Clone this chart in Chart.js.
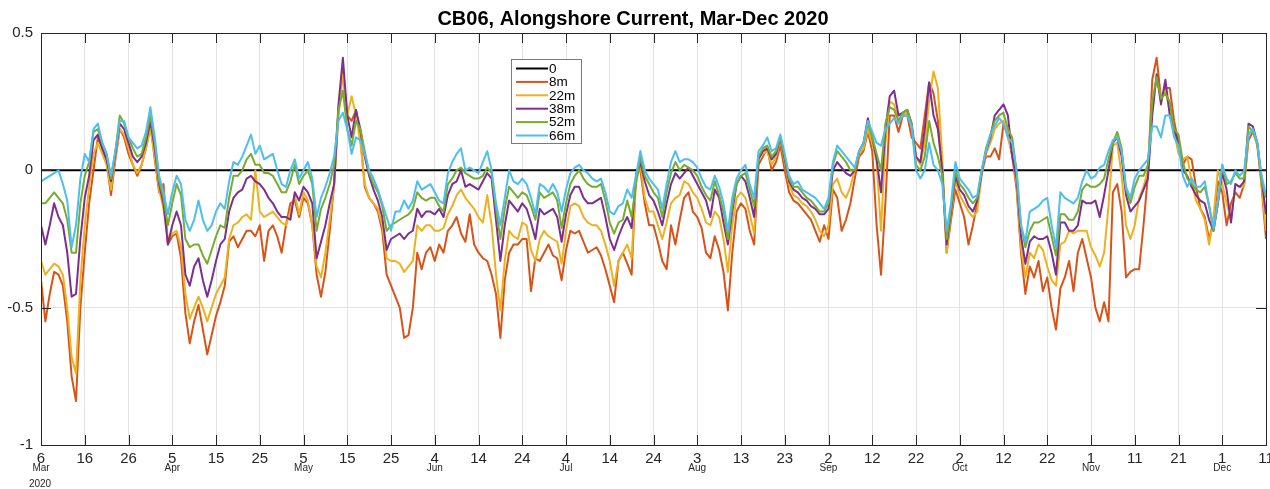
<!DOCTYPE html>
<html>
<head>
<meta charset="utf-8">
<title>CB06 Alongshore Current</title>
<script src="https://cdn.jsdelivr.net/npm/chart.js@4.4.1/dist/chart.umd.min.js"></script>
<style>
  html, body { margin: 0; padding: 0; background: #ffffff; }
  #wrap { width: 1270px; height: 489px; }
</style>
</head>
<body>
<div id="wrap"><canvas id="cv" width="1270" height="489"></canvas></div>
<script>
// Daily samples, counted in days since 6 Mar 2020 (0 .. 280 = 11 Dec 2020)
const dayIndex = Array.from({ length: 281 }, (_, i) => i);

// Tick labels: day of month every 10 days, month name under the first tick of each month
const xTickLabels = ['6','16','26','5','15','25','5','15','25','4','14','24','4','14','24',
                     '3','13','23','2','12','22','2','12','22','1','11','21','1','11'];
const xTickMonths = ['Mar','','','Apr','','','May','','','Jun','','','Jul','','','Aug','','',
                     'Sep','','','Oct','','','Nov','','','Dec',''];
const yearLabel = '2020';
const yTickValues = [-1, -0.5, 0, 0.5];

const seriesNames = ['0', '8m', '22m', '38m', '52m', '66m'];
const zeroLevel = 0;

// Alongshore velocity (m/s) at each depth
const v8m = [
  -0.40,-0.55,-0.45,-0.37,-0.38,-0.42,-0.55,-0.75,-0.84,-0.50,
  -0.30,-0.12, 0.00, 0.12, 0.08, 0.03,-0.09, 0.04, 0.15, 0.12,
   0.06, 0.02,-0.02, 0.02, 0.08, 0.17, 0.04,-0.08,-0.05,-0.27,
  -0.24,-0.23,-0.32,-0.52,-0.63,-0.55,-0.49,-0.58,-0.67,-0.60,
  -0.53,-0.48,-0.42,-0.26,-0.24,-0.28,-0.25,-0.22,-0.22,-0.24,
  -0.20,-0.33,-0.22,-0.20,-0.24,-0.30,-0.20,-0.12,-0.11,-0.17,
  -0.10,-0.12,-0.20,-0.38,-0.46,-0.37,-0.22,-0.05, 0.22, 0.36,
   0.20, 0.18, 0.22, 0.12,-0.06,-0.10,-0.12,-0.15,-0.22,-0.38,
  -0.42,-0.46,-0.50,-0.61,-0.60,-0.50,-0.30,-0.36,-0.30,-0.28,
  -0.33,-0.27,-0.30,-0.22,-0.20,-0.17,-0.23,-0.26,-0.16,-0.27,
  -0.30,-0.32,-0.33,-0.38,-0.45,-0.61,-0.40,-0.30,-0.27,-0.27,
  -0.25,-0.25,-0.44,-0.32,-0.33,-0.30,-0.27,-0.31,-0.32,-0.40,
  -0.29,-0.22,-0.23,-0.22,-0.26,-0.30,-0.29,-0.28,-0.31,-0.36,
  -0.42,-0.48,-0.33,-0.30,-0.34,-0.38,-0.01, 0.00,-0.12,-0.20,
  -0.20,-0.26,-0.33,-0.36,-0.20,-0.27,-0.18,-0.10,-0.08,-0.15,
  -0.17,-0.21,-0.30,-0.32,-0.24,-0.29,-0.37,-0.51,-0.30,-0.15,
  -0.12,-0.14,-0.22,-0.27, 0.02, 0.05, 0.08, 0.00, 0.03, 0.09,
   0.00,-0.08,-0.11,-0.12,-0.14,-0.16,-0.18,-0.22,-0.26,-0.20,
  -0.25,-0.07,-0.10,-0.22,-0.18,-0.12,-0.03, 0.05, 0.07, 0.14,
   0.07,-0.20,-0.38,-0.12, 0.20, 0.20, 0.14, 0.20, 0.20, 0.12,
   0.10, 0.08, 0.20, 0.32, 0.28, 0.18, 0.00,-0.30,-0.18,-0.07,
  -0.12,-0.17,-0.27,-0.20,-0.12,-0.01, 0.05, 0.05, 0.08, 0.04,
   0.17, 0.13, 0.05,-0.07,-0.30,-0.45,-0.35,-0.39,-0.33,-0.44,
  -0.39,-0.50,-0.58,-0.43,-0.39,-0.33,-0.44,-0.30,-0.25,-0.32,
  -0.39,-0.50,-0.55,-0.48,-0.55,-0.08,-0.05,-0.15,-0.39,-0.37,
  -0.36,-0.36,-0.20,-0.02, 0.33, 0.41, 0.26, 0.30, 0.30, 0.18,
   0.10, 0.02, 0.05, 0.04,-0.06,-0.14,-0.17,-0.25,-0.19,-0.04,
  -0.08,-0.20,-0.12,-0.08,-0.10,-0.05, 0.11, 0.14, 0.10,-0.06,
  -0.25
];

const v22m = [
  -0.33,-0.38,-0.36,-0.34,-0.35,-0.38,-0.50,-0.68,-0.74,-0.40,
  -0.20,-0.06, 0.06, 0.10, 0.06, 0.02,-0.07, 0.05, 0.15, 0.13,
   0.08, 0.02,-0.01, 0.02, 0.08, 0.15, 0.05,-0.07,-0.14,-0.25,
  -0.23,-0.22,-0.28,-0.45,-0.54,-0.50,-0.46,-0.50,-0.55,-0.50,
  -0.45,-0.42,-0.39,-0.25,-0.20,-0.19,-0.17,-0.16,-0.18, 0.00,
  -0.15,-0.17,-0.16,-0.15,-0.17,-0.19,-0.20,-0.15,-0.09,-0.16,
  -0.08,-0.11,-0.20,-0.35,-0.39,-0.30,-0.18,-0.05, 0.20, 0.35,
   0.20, 0.27, 0.20, 0.10,-0.05,-0.10,-0.12,-0.14,-0.20,-0.32,
  -0.33,-0.33,-0.34,-0.37,-0.35,-0.33,-0.20,-0.22,-0.20,-0.20,
  -0.22,-0.22,-0.21,-0.16,-0.13,-0.09,-0.07,-0.10,-0.12,-0.14,
  -0.17,-0.19,-0.09,-0.20,-0.38,-0.51,-0.33,-0.22,-0.24,-0.25,
  -0.19,-0.20,-0.29,-0.33,-0.25,-0.22,-0.24,-0.25,-0.26,-0.34,
  -0.22,-0.13,-0.12,-0.13,-0.17,-0.19,-0.20,-0.20,-0.22,-0.27,
  -0.33,-0.42,-0.33,-0.30,-0.27,-0.32,-0.04, 0.02,-0.10,-0.15,
  -0.15,-0.20,-0.25,-0.19,-0.12,-0.10,-0.09,-0.04,-0.05,-0.08,
  -0.10,-0.14,-0.19,-0.20,-0.15,-0.17,-0.25,-0.37,-0.20,-0.10,
  -0.08,-0.10,-0.16,-0.23, 0.05, 0.06, 0.07, 0.02, 0.05, 0.11,
   0.03,-0.05,-0.09,-0.10,-0.12,-0.13,-0.15,-0.18,-0.22,-0.24,
  -0.20,-0.05,-0.03,-0.08,-0.10,-0.06, 0.00, 0.06, 0.08, 0.15,
   0.10, 0.03,-0.22, 0.10, 0.25, 0.24, 0.18, 0.20, 0.21, 0.16,
   0.05, 0.02, 0.10, 0.25, 0.36, 0.30, 0.05,-0.30,-0.16,-0.04,
  -0.09,-0.12,-0.15,-0.17,-0.15,-0.02, 0.06, 0.10, 0.15, 0.17,
   0.18, 0.12, 0.06,-0.05,-0.28,-0.39,-0.30,-0.32,-0.27,-0.29,
  -0.35,-0.40,-0.42,-0.27,-0.26,-0.22,-0.23,-0.22,-0.22,-0.22,
  -0.28,-0.31,-0.35,-0.30,-0.13, 0.09, 0.10,-0.02,-0.20,-0.25,
  -0.20,-0.10,-0.06, 0.00, 0.25, 0.33, 0.27, 0.29, 0.22, 0.14,
   0.06, 0.04, 0.05,-0.04,-0.11,-0.14,-0.18,-0.27,-0.17, 0.00,
  -0.05,-0.12,-0.18,-0.05,-0.06,-0.06, 0.14, 0.14, 0.09,-0.05,
  -0.22
];

const v38m = [
  -0.20,-0.27,-0.20,-0.12,-0.17,-0.20,-0.30,-0.46,-0.45,-0.25,
  -0.10,-0.02, 0.11, 0.13, 0.08, 0.04,-0.04, 0.06, 0.17, 0.15,
   0.10, 0.05, 0.03, 0.05, 0.10, 0.18, 0.08,-0.05,-0.12,-0.27,
  -0.20,-0.15,-0.20,-0.38,-0.42,-0.35,-0.32,-0.40,-0.46,-0.40,
  -0.33,-0.27,-0.25,-0.15,-0.10,-0.08,-0.07,-0.03,-0.02,-0.04,
  -0.05,-0.07,-0.10,-0.12,-0.15,-0.17,-0.17,-0.18,-0.08,-0.11,
  -0.06,-0.08,-0.12,-0.32,-0.26,-0.20,-0.12,-0.05, 0.24, 0.41,
   0.20, 0.12, 0.22, 0.15, 0.05,-0.02,-0.07,-0.11,-0.17,-0.29,
  -0.25,-0.24,-0.23,-0.25,-0.23,-0.22,-0.14,-0.17,-0.15,-0.15,
  -0.16,-0.14,-0.17,-0.09,-0.05,-0.04, 0.00,-0.06,-0.05,-0.06,
  -0.07,-0.04,-0.01,-0.03,-0.18,-0.33,-0.20,-0.11,-0.13,-0.15,
  -0.12,-0.14,-0.19,-0.25,-0.14,-0.16,-0.15,-0.14,-0.17,-0.26,
  -0.16,-0.09,-0.06,-0.06,-0.10,-0.12,-0.12,-0.11,-0.10,-0.17,
  -0.25,-0.29,-0.24,-0.20,-0.17,-0.21,-0.03, 0.03,-0.04,-0.09,
  -0.11,-0.15,-0.20,-0.12,-0.05,-0.01,-0.03,-0.01, 0.01,-0.02,
  -0.05,-0.08,-0.11,-0.17,-0.07,-0.10,-0.19,-0.27,-0.15,-0.05,
  -0.02,-0.04,-0.10,-0.17, 0.04, 0.07, 0.08, 0.04, 0.06, 0.12,
   0.04,-0.04,-0.07,-0.08,-0.10,-0.11,-0.13,-0.14,-0.16,-0.16,
  -0.14, 0.00, 0.03, 0.01,-0.01,-0.02, 0.00, 0.07, 0.10, 0.19,
   0.12, 0.04,-0.08, 0.15, 0.27, 0.29, 0.20, 0.21, 0.22, 0.17,
   0.05, 0.03, 0.15, 0.32, 0.20, 0.15, 0.00,-0.27,-0.15,-0.02,
  -0.07,-0.09,-0.13,-0.15,-0.11,-0.01, 0.07, 0.12, 0.20, 0.22,
   0.24, 0.20, 0.05,-0.03,-0.24,-0.34,-0.26,-0.24,-0.25,-0.25,
  -0.24,-0.30,-0.38,-0.19,-0.19,-0.22,-0.22,-0.20,-0.11,-0.12,
  -0.12,-0.11,-0.17,-0.09, 0.00, 0.10, 0.12, 0.05,-0.09,-0.15,
  -0.13,-0.11,-0.07,-0.03, 0.20, 0.35, 0.24, 0.33, 0.20, 0.15,
   0.10, 0.00,-0.02,-0.06,-0.09,-0.11,-0.12,-0.18,-0.22,-0.12,
  -0.01,-0.07,-0.19,-0.05,-0.06,-0.04, 0.17, 0.16, 0.10,-0.03,
  -0.16
];

const v52m = [
  -0.12,-0.12,-0.10,-0.08,-0.10,-0.12,-0.18,-0.30,-0.30,-0.12,
  -0.02, 0.03, 0.14, 0.15, 0.10, 0.06,-0.03, 0.07, 0.20, 0.17,
   0.12, 0.08, 0.05, 0.06, 0.12, 0.20, 0.10,-0.04,-0.10,-0.20,
  -0.12,-0.05,-0.09,-0.25,-0.28,-0.27,-0.27,-0.31,-0.34,-0.29,
  -0.24,-0.20,-0.21,-0.10,-0.02,-0.02, 0.00, 0.04, 0.06, 0.02,
   0.02,-0.01,-0.01,-0.02,-0.05,-0.08,-0.08,-0.04, 0.02,-0.05,
  -0.02, 0.00,-0.05,-0.22,-0.14,-0.10,-0.05, 0.02, 0.22, 0.29,
   0.15, 0.09, 0.18, 0.15, 0.07,-0.01,-0.05,-0.08,-0.13,-0.22,
  -0.20,-0.19,-0.18,-0.17,-0.16,-0.14,-0.08,-0.10,-0.11,-0.10,
  -0.10,-0.13,-0.15,-0.05,-0.03, 0.00, 0.01,-0.01,-0.02,-0.03,
  -0.03,-0.02, 0.01,-0.01,-0.14,-0.25,-0.14,-0.06,-0.08,-0.10,
  -0.08,-0.09,-0.13,-0.18,-0.08,-0.10,-0.09,-0.08,-0.11,-0.21,
  -0.12,-0.05,-0.02, 0.00,-0.03,-0.05,-0.06,-0.06,-0.05,-0.11,
  -0.19,-0.23,-0.19,-0.18,-0.11,-0.17,-0.05, 0.05,-0.02,-0.05,
  -0.08,-0.10,-0.17,-0.08,-0.01, 0.03, 0.00, 0.02, 0.01, 0.00,
  -0.02,-0.06,-0.09,-0.11,-0.04,-0.09,-0.15,-0.25,-0.13,-0.05,
  -0.02,-0.01,-0.07,-0.13, 0.05, 0.08, 0.09, 0.05, 0.07, 0.12,
   0.05,-0.03,-0.06,-0.06,-0.08,-0.10,-0.11,-0.13,-0.15,-0.15,
  -0.12, 0.02, 0.07, 0.05, 0.03, 0.00, 0.00, 0.07, 0.10, 0.17,
   0.12, 0.06, 0.00, 0.17, 0.23, 0.22, 0.18, 0.21, 0.22, 0.17,
   0.02, 0.00, 0.05, 0.18, 0.10, 0.05,-0.02,-0.25,-0.14, 0.00,
  -0.05,-0.07,-0.10,-0.12,-0.10, 0.00, 0.08, 0.13, 0.18, 0.20,
   0.21, 0.15, 0.12,-0.01,-0.20,-0.28,-0.22,-0.19,-0.19,-0.18,
  -0.17,-0.24,-0.31,-0.16,-0.16,-0.18,-0.18,-0.15,-0.07,-0.05,
  -0.06,-0.06,-0.05,-0.03, 0.04, 0.10, 0.14, 0.08,-0.07,-0.12,
  -0.06,-0.02,-0.02, 0.02, 0.25, 0.34, 0.26, 0.28, 0.25, 0.15,
   0.13, 0.03,-0.03,-0.05,-0.07,-0.08,-0.06,-0.13,-0.22,-0.12,
   0.02,-0.05,-0.04,-0.01,-0.03,-0.03, 0.16, 0.14, 0.10,-0.04,
  -0.10
];

const v66m = [
  -0.04,-0.03,-0.02,-0.01, 0.00,-0.05,-0.11,-0.28,-0.20,-0.03,
   0.06, 0.03, 0.15, 0.17, 0.10, 0.06,-0.02, 0.07, 0.18, 0.18,
   0.12, 0.10, 0.08, 0.09, 0.14, 0.23, 0.12,-0.02,-0.08,-0.16,
  -0.08,-0.02,-0.05,-0.18,-0.22,-0.18,-0.11,-0.18,-0.22,-0.20,
  -0.15,-0.12,-0.14,-0.04, 0.03, 0.02, 0.05, 0.09, 0.13, 0.06,
   0.09, 0.04, 0.05, 0.06, 0.00,-0.05,-0.06, 0.00, 0.04,-0.03,
   0.00, 0.03,-0.03,-0.17,-0.10,-0.06,-0.01, 0.05, 0.18, 0.21,
   0.15, 0.06, 0.12, 0.11, 0.06, 0.00,-0.03,-0.07,-0.12,-0.17,
  -0.22,-0.15,-0.15,-0.11,-0.14,-0.11,-0.04,-0.07,-0.06,-0.05,
  -0.08,-0.11,-0.12,-0.01, 0.03, 0.06, 0.08, 0.00, 0.01, 0.00,
  -0.01, 0.03, 0.07, 0.00,-0.12,-0.20,-0.10, 0.00,-0.04,-0.05,
  -0.03,-0.05,-0.10,-0.16,-0.05,-0.06,-0.08,-0.05,-0.08,-0.15,
  -0.07,-0.01, 0.01, 0.02, 0.00,-0.01,-0.03,-0.04,-0.03,-0.08,
  -0.15,-0.16,-0.13,-0.12,-0.07,-0.10,-0.02, 0.07, 0.00,-0.03,
  -0.05,-0.07,-0.14,-0.05, 0.03, 0.07, 0.03, 0.04, 0.04, 0.03,
   0.01,-0.03,-0.06,-0.07,-0.02,-0.06,-0.12,-0.22,-0.10,-0.03,
   0.00, 0.02,-0.05,-0.10, 0.07, 0.09, 0.12, 0.07, 0.08, 0.13,
   0.06,-0.02,-0.05,-0.04,-0.07,-0.08,-0.09,-0.10,-0.12,-0.14,
  -0.10, 0.03, 0.09, 0.07, 0.05, 0.03, 0.01, 0.07, 0.10, 0.18,
   0.14, 0.10, 0.09, 0.15, 0.17, 0.19, 0.17, 0.20, 0.20, 0.16,
   0.00,-0.03, 0.00, 0.10, 0.02, 0.00,-0.05,-0.22,-0.12, 0.03,
  -0.03,-0.05,-0.07,-0.10,-0.09, 0.00, 0.07, 0.13, 0.16, 0.19,
   0.17, 0.12, 0.10, 0.00,-0.20,-0.26,-0.15,-0.14,-0.13,-0.11,
  -0.10,-0.20,-0.28,-0.08,-0.10,-0.11,-0.12,-0.10,-0.04, 0.00,
  -0.03,-0.02, 0.01, 0.02, 0.07, 0.11, 0.12, 0.07,-0.06,-0.10,
  -0.03, 0.00, 0.02, 0.04, 0.16, 0.16, 0.12, 0.20, 0.20, 0.12,
   0.09,-0.02,-0.06,-0.03,-0.06,-0.06,-0.04,-0.13,-0.21,-0.11,
   0.02,-0.03,-0.05, 0.00,-0.02, 0.00, 0.13, 0.15, 0.10,-0.02,
  -0.09
];

const seriesValues = [dayIndex.map(() => zeroLevel), v8m, v22m, v38m, v52m, v66m];
const seriesColors = ['#000000', '#D95319', '#EDB120', '#7E2F8E', '#77AC30', '#4DBEEE'];

const FONT = '"Liberation Sans", Arial, Helvetica, sans-serif';
const AXIS_COLOR = '#262626';

// Box outline, inward tick marks, in-plot legend, month and year labels
const axesDecor = {
  id: 'axesDecor',
  afterDatasetsDraw(chart) {
    const { ctx, chartArea: a, scales: { x, y } } = chart;
    ctx.save();
    ctx.strokeStyle = AXIS_COLOR;
    ctx.lineWidth = 1;
    ctx.beginPath();
    x.ticks.forEach(t => {
      const px = Math.round(x.getPixelForValue(t.value)) + 0.5;
      ctx.moveTo(px, a.bottom); ctx.lineTo(px, a.bottom - 10);
      ctx.moveTo(px, a.top);    ctx.lineTo(px, a.top + 10);
    });
    y.ticks.forEach(t => {
      const py = Math.round(y.getPixelForValue(t.value)) + 0.5;
      ctx.moveTo(a.left, py);  ctx.lineTo(a.left + 10, py);
      ctx.moveTo(a.right, py); ctx.lineTo(a.right - 10, py);
    });
    ctx.stroke();
    ctx.strokeRect(Math.round(a.left) + 0.5, Math.round(a.top) + 0.5,
                   Math.round(a.right - a.left), Math.round(a.bottom - a.top));

    // legend box
    const lx = 511, ly = 59, lw = 70, lh = 84, row = 13.4;
    ctx.fillStyle = '#ffffff';
    ctx.fillRect(lx, ly, lw, lh);
    ctx.strokeStyle = '#7a7a7a';
    ctx.strokeRect(lx + 0.5, ly + 0.5, lw, lh);
    ctx.font = '13.5px ' + FONT;
    ctx.textBaseline = 'middle';
    ctx.textAlign = 'left';
    chart.data.datasets.forEach((ds, i) => {
      const ry = ly + 9.5 + i * row;
      ctx.strokeStyle = ds.borderColor;
      ctx.lineWidth = 2;
      ctx.beginPath();
      ctx.moveTo(lx + 5, ry); ctx.lineTo(lx + 37, ry);
      ctx.stroke();
      ctx.fillStyle = '#000000';
      ctx.fillText(ds.label, lx + 38, ry + 0.5);
    });
    ctx.restore();
  },
  afterDraw(chart) {
    const { ctx, scales: { x } } = chart;
    ctx.save();
    ctx.fillStyle = AXIS_COLOR;
    ctx.font = '10px ' + FONT;
    ctx.textAlign = 'center';
    ctx.textBaseline = 'middle';
    x.ticks.forEach((t, i) => {
      const m = xTickMonths[i];
      if (m) ctx.fillText(m, x.getPixelForValue(t.value), 468);
    });
    ctx.fillText(yearLabel, x.getPixelForValue(0) - 1, 484);
    ctx.restore();
  }
};

new Chart(document.getElementById('cv'), {
  type: 'line',
  data: {
    datasets: seriesNames.map((name, i) => ({
      label: name,
      data: dayIndex.map((d, k) => ({ x: d, y: seriesValues[i][k] })),
      borderColor: seriesColors[i],
      backgroundColor: seriesColors[i],
      borderWidth: 2,
      pointRadius: 0,
      tension: 0,
      borderJoinStyle: 'round',
      fill: false,
      order: seriesNames.length - 1 - i
    }))
  },
  options: {
    responsive: false,
    animation: false,
    devicePixelRatio: 1,
    layout: { padding: { left: 0, right: 4, top: 0, bottom: 0 } },
    plugins: {
      legend: { display: false },
      tooltip: { enabled: false },
      title: {
        display: true,
        text: 'CB06, Alongshore Current, Mar-Dec 2020',
        color: '#000000',
        font: { family: FONT, size: 20, weight: 'bold', lineHeight: 1.2 },
        padding: { top: 7, bottom: 2 }
      }
    },
    scales: {
      x: {
        type: 'linear',
        min: 0,
        max: 280,
        border: { display: false },
        grid: { color: '#e3e3e3', lineWidth: 1, drawTicks: false },
        ticks: {
          stepSize: 10,
          autoSkip: false,
          maxRotation: 0,
          padding: 5,
          color: AXIS_COLOR,
          font: { family: FONT, size: 15 },
          callback: (v) => xTickLabels[Math.round(v / 10)]
        },
        afterFit(scale) { scale.height = 44; scale.paddingLeft = 0; scale.paddingRight = 0; }
      },
      y: {
        type: 'linear',
        min: -1,
        max: 0.5,
        border: { display: false },
        grid: { color: '#e3e3e3', lineWidth: 1, drawTicks: false },
        afterBuildTicks(scale) { scale.ticks = yTickValues.map(v => ({ value: v })); },
        ticks: {
          padding: 8,
          color: AXIS_COLOR,
          font: { family: FONT, size: 15 },
          callback: (v) => String(v)
        },
        afterFit(scale) { scale.width = 41; scale.paddingTop = 0; scale.paddingBottom = 0; }
      }
    }
  },
  plugins: [axesDecor]
});
</script>
</body>
</html>
